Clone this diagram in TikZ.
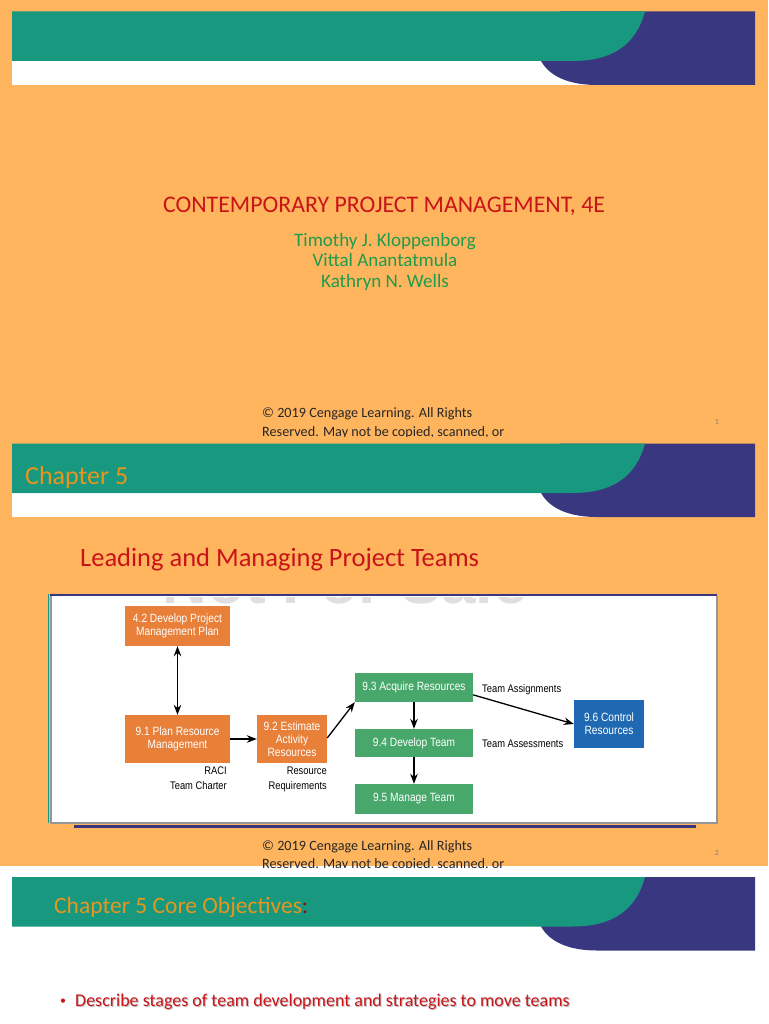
\documentclass[tikz,border=0pt]{standalone}
\usepackage{fontspec}
\setmainfont{Carlito}
\newfontfamily\diagfont[FakeStretch=0.85]{Liberation Sans}
\newfontfamily\wmfont{Liberation Sans}
\usetikzlibrary{arrows.meta,calc}
\definecolor{bgorange}{RGB}{255,181,94}
\definecolor{bnteal}{RGB}{24,152,127}
\definecolor{bnnavy}{RGB}{56,55,128}
\definecolor{boxorange}{RGB}{232,128,58}
\definecolor{boxgreen}{RGB}{72,168,108}
\definecolor{boxblue}{RGB}{30,105,178}
\definecolor{titlered}{RGB}{200,20,25}
\definecolor{authgreen}{RGB}{30,155,75}
\definecolor{chapgold}{RGB}{230,150,30}
\definecolor{framegrey}{RGB}{150,150,150}
\newcommand{\slidebanner}{%
  \fill[white] (12,61) rectangle (755,85);
  \fill[bnnavy] (755,11.5) -- (755,85) -- (597,85) .. controls (570,85) and (550,77) .. (541,61) -- (560,11.5) -- cycle;
  \fill[bnteal] (12,11.5) -- (645,11.5) .. controls (636,45) and (612,61) .. (573,61) -- (12,61) -- cycle;
}
\tikzset{
  txt/.style={inner sep=0pt, anchor=base west},
  pbox/.style={draw=none, text=white, align=center, inner sep=1pt,
     font=\diagfont\fontsize{12}{13}\selectfont},
  obox/.style={pbox, fill=boxorange},
  gbox/.style={pbox, fill=boxgreen},
  bbox/.style={pbox, fill=boxblue},
  lbl/.style={inner sep=0pt, align=right, font=\diagfont\fontsize{11}{15}\selectfont},
  arr/.style={line width=1.3pt, -{Stealth[length=10pt,width=7.5pt]}},
  darr/.style={line width=1.3pt, {Stealth[length=10pt,width=7.5pt]}-{Stealth[length=10pt,width=7.5pt]}},
  copy/.style={txt, font=\fontsize{14.2}{16}\selectfont, text=black!85},
  pnum/.style={inner sep=0pt, font=\fontsize{8}{9}\selectfont, text=gray}
}
\begin{document}
\begin{tikzpicture}[x=1pt,y=-1pt]
\useasboundingbox (0,0) rectangle (768,1024);
% backgrounds
\fill[bgorange] (0,0) rectangle (768,866);
\fill[white] (0,866) rectangle (768,1024);

% ---------- slide 1 ----------
\slidebanner
\node[inner sep=0pt, anchor=base, text=titlered, font=\fontsize{23.8}{26}\selectfont] (title1) at (384,213) {CONTEMPORARY PROJECT MANAGEMENT, 4E};
\node[inner sep=0pt, anchor=base, text=authgreen, font=\fontsize{19}{22}\selectfont] (auth1) at (385,246) {Timothy J. Kloppenborg};
\node[inner sep=0pt, anchor=base, text=authgreen, font=\fontsize{19}{22}\selectfont] (auth2) at (385,266) {Vittal Anantatmula};
\node[inner sep=0pt, anchor=base, text=authgreen, font=\fontsize{19}{22}\selectfont] (auth3) at (385,287) {Kathryn N. Wells};
\begin{scope}
  \clip (0,0) rectangle (768,436);
  \node[copy] (c1a) at (262,417) {© 2019 Cengage Learning. All Rights};
  \node[copy] (c1b) at (262,436) {Reserved. May not be copied, scanned, or};
\end{scope}
\node[pnum] (p1) at (717,422) {1};

% ---------- slide 2 ----------
\begin{scope}[yshift=-432pt]
  \slidebanner
\end{scope}
\node[txt, text=chapgold, font=\fontsize{26}{28}\selectfont] (chap) at (25,484) {Chapter 5};
\node[txt, text=titlered, font=\fontsize{26.5}{28}\selectfont] (lead) at (80,566) {Leading and Managing Project Teams};

% diagram frame
\fill[white] (50,596) rectangle (717,823);
\begin{scope}
  \clip (50,597) rectangle (717,606);
  \node[inner sep=0pt, anchor=base, text=gray!25, font=\wmfont\bfseries\fontsize{62}{62}\selectfont] (wm) at (345,603) {Not For Sale};
\end{scope}
\draw[bnteal, line width=1pt] (48.5,594) -- (48.5,823);
\draw[framegrey, line width=2pt] (51,596) -- (51,823) -- (717,823) -- (717,596);
\draw[bnnavy, line width=2pt] (50,595) -- (717,595);
\draw[bnnavy, line width=2.5pt] (74,826.5) -- (696,826.5);

% diagram nodes
\node[obox, minimum width=105pt, minimum height=40pt] (n42) at (177.5,626) {4.2 Develop Project\\Management Plan};
\node[obox, minimum width=105pt, minimum height=48pt] (n91) at (177.5,739) {9.1 Plan Resource\\Management};
\node[obox, minimum width=70pt, minimum height=48pt] (n92) at (292,739) {9.2 Estimate\\Activity\\Resources};
\node[gbox, minimum width=118pt, minimum height=29pt] (n93) at (414,687.5) {9.3 Acquire Resources};
\node[gbox, minimum width=118pt, minimum height=28pt] (n94) at (414,743) {9.4 Develop Team};
\node[gbox, minimum width=118pt, minimum height=30pt] (n95) at (414,799) {9.5 Manage Team};
\node[bbox, minimum width=70pt, minimum height=48pt] (n96) at (609,724) {9.6 Control\\Resources};

\node[lbl, anchor=north east] (raci) at (227,767) {RACI\\Team Charter};
\node[lbl, anchor=north east] (rreq) at (327,767) {Resource\\Requirements};
\node[lbl, anchor=base west] (tasg) at (482,692) {Team Assignments};
\node[lbl, anchor=base west] (tass) at (482,747) {Team Assessments};

\draw[darr] (n42.south) -- (n91.north);
\draw[arr] (n91.east) -- (n92.west);
\draw[arr] ($(n92.north east)!0.48!(n92.south east)$) -- (n93.south west);
\draw[arr] (n93.south) -- (n94.north);
\draw[arr] (n94.south) -- (n95.north);
\draw[arr] ($(n93.north east)!0.75!(n93.south east)$) -- (n96.west);

\begin{scope}
  \clip (0,0) rectangle (768,867);
  \node[copy] (c2a) at (262,850) {© 2019 Cengage Learning. All Rights};
  \node[copy] (c2b) at (262,868) {Reserved. May not be copied, scanned, or};
\end{scope}
\node[pnum] (p2) at (717,853) {2};

% ---------- slide 3 ----------
\begin{scope}[yshift=-865.5pt]
  \slidebanner
\end{scope}
\node[txt, text=chapgold, font=\fontsize{23.5}{26}\selectfont] (core) at (54,913) {Chapter 5 Core Objectives\textcolor{titlered!70!black}{:}};
\node[txt, text=gray!50, font=\fontsize{18}{20}\selectfont] (bulsh) at (76,1007) {Describe stages of team development and strategies to move teams};
\node[txt, text=titlered, font=\fontsize{18}{20}\selectfont] (bul) at (75,1006) {Describe stages of team development and strategies to move teams};
\node[txt, text=titlered, font=\fontsize{12}{14}\selectfont] (dot) at (60,1004) {•};
\end{tikzpicture}
\end{document}
